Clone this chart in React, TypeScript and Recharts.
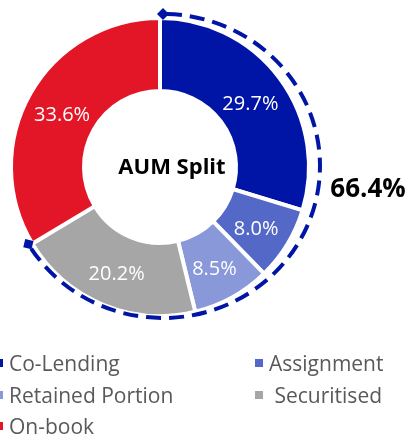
import { PieChart, Pie, Cell } from 'recharts'

const CATEGORIES = ['Co-Lending', 'Assignment', 'Retained Portion', ' Securitised', 'On-book']
const SHARES = [29.7, 8.0, 8.5, 20.2, 33.6]
const BRACKET_SHARES = [66.4, 33.6]
const BRACKET_LABEL = '66.4%'
const CENTER_LABEL = 'AUM Split'

const COLORS = ['#0014A6', '#5468C8', '#8898D8', '#A6A6A6', '#E31628']
const ARC_BLUE = '#0014A6'
const RADIAN = Math.PI / 180

const pieData = CATEGORIES.map((name, i) => ({ name, value: SHARES[i] }))
const bracketData = BRACKET_SHARES.map((value, i) => ({ name: i === 0 ? 'arc' : 'rest', value }))

function SliceLabel(props: any) {
  const { cx, cy, midAngle, innerRadius, outerRadius, value } = props
  const r = (innerRadius + outerRadius) / 2
  const x = cx + r * Math.cos(-midAngle * RADIAN)
  const y = cy + r * Math.sin(-midAngle * RADIAN)
  return (
    <text
      x={x}
      y={y + 2}
      fill="#fff"
      textAnchor="middle"
      dominantBaseline="central"
      fontSize={20}
    >
      {Number(value).toFixed(1)}%
    </text>
  )
}

// dashed bracket around the first four slices (slightly oval, like the original)
function DashedArc(props: any) {
  const { cx, cy, startAngle, endAngle, payload } = props
  if (!payload || payload.name !== 'arc') return null
  const ex = cx + 3
  const ey = cy - 1
  const rx = 157
  const ry = 152
  const x1 = ex + rx * Math.cos(-startAngle * RADIAN)
  const y1 = ey + ry * Math.sin(-startAngle * RADIAN)
  const x2 = ex + rx * Math.cos(-endAngle * RADIAN)
  const y2 = ey + ry * Math.sin(-endAngle * RADIAN)
  const large = Math.abs(startAngle - endAngle) > 180 ? 1 : 0
  return (
    <g>
      <defs>
        <marker
          id="diamond"
          viewBox="-6 -6 12 12"
          markerWidth={12}
          markerHeight={12}
          refX={0}
          refY={0}
          orient="auto"
          markerUnits="userSpaceOnUse"
        >
          <path d="M-6 0 L0 -6 L6 0 L0 6 Z" fill={ARC_BLUE} />
        </marker>
      </defs>
      <path
        d={`M${x1} ${y1} A${rx} ${ry} 0 ${large} 1 ${x2} ${y2}`}
        fill="none"
        stroke={ARC_BLUE}
        strokeWidth={4}
        strokeDasharray="15 8"
        strokeDashoffset={-4}
        markerStart="url(#diamond)"
        markerEnd="url(#diamond)"
      />
    </g>
  )
}

function LegendBox() {
  return (
    <div style={{ position: 'absolute', left: 0, top: 352, width: 408, height: 87 }}>
      {CATEGORIES.map((name, i) => {
        const col = i % 2
        const row = Math.floor(i / 2)
        return (
          <div
            key={name}
            style={{
              position: 'absolute',
              left: col === 0 ? -5 : 255,
              top: row * 31.7,
              height: 22,
              display: 'flex',
              alignItems: 'center',
              whiteSpace: 'pre',
              fontSize: 21,
              lineHeight: '22px',
              color: '#595959',
            }}
          >
            <span
              style={{
                display: 'inline-block',
                flexShrink: 0,
                width: 8,
                height: 8,
                background: COLORS[i],
                marginRight: 6,
              }}
            />
            {name}
          </div>
        )
      })}
    </div>
  )
}

export default function App() {
  return (
    <div
      style={{
        position: 'fixed',
        left: 0,
        top: 0,
        width: 408,
        height: 439,
        overflow: 'hidden',
        fontFamily: '"Open Sans", sans-serif',
      }}
    >
      <PieChart width={408} height={345} margin={{ top: 0, right: 0, bottom: 0, left: 0 }}>
        <Pie
          data={pieData}
          dataKey="value"
          nameKey="name"
          cx={160}
          cy={167}
          innerRadius={76}
          outerRadius={149}
          startAngle={90}
          endAngle={-270}
          stroke="#fff"
          strokeWidth={4}
          label={SliceLabel}
          labelLine={false}
          isAnimationActive={false}
        >
          {pieData.map((d, i) => (
            <Cell key={d.name} fill={COLORS[i]} />
          ))}
        </Pie>
        <Pie
          data={bracketData}
          dataKey="value"
          cx={160}
          cy={167}
          innerRadius={150}
          outerRadius={156}
          startAngle={90}
          endAngle={-270}
          legendType="none"
          shape={DashedArc}
          isAnimationActive={false}
        />
        <text
          x={172}
          y={165}
          textAnchor="middle"
          dominantBaseline="central"
          fontSize={22}
          fontWeight={700}
          fill="#000"
        >
          {CENTER_LABEL}
        </text>
        <text
          x={368}
          y={187}
          textAnchor="middle"
          dominantBaseline="central"
          fontSize={26}
          fontWeight={700}
          fill="#000"
        >
          {BRACKET_LABEL}
        </text>
      </PieChart>
      <LegendBox />
    </div>
  )
}
